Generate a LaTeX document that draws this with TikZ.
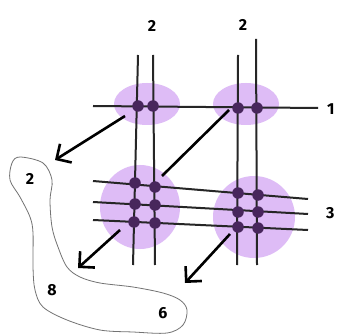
\documentclass[tikz,border=0pt]{standalone}
\usepackage{fontspec}
\setmainfont{Fira Sans}
\usetikzlibrary{arrows.meta,shapes.geometric}
\definecolor{bubble}{RGB}{222,188,246}
\definecolor{pin}{RGB}{72,38,92}

\begin{document}
\begin{tikzpicture}[x=1pt,y=-1pt,
  font=\bfseries\fontsize{16}{16}\selectfont,
  halo/.style={ellipse,fill=bubble,draw=none,inner sep=0pt},
  wire/.style={draw=black!85,line width=2pt},
  pin/.style={circle,fill=pin,inner sep=0pt,minimum size=11.5pt},
  ar/.style={-{Straight Barb[length=11pt,width=22pt,line width=2.6pt]},line width=2.6pt},
  blob/.style={draw=black!55,line width=0.8pt}
]
\useasboundingbox (0,0) rectangle (336,336);
\fill[white] (0,0) rectangle (336,336);

% halos
\node[halo,minimum width=66pt,minimum height=42pt] (h1) at (147,104) {};
\node[halo,minimum width=66pt,minimum height=42pt] (h2) at (246,104) {};
\node[halo,minimum width=80pt,minimum height=84pt] (h3) at (140,207) {};
\node[halo,minimum width=82pt,minimum height=82pt] (h4) at (254,217) {};

% vertical wires
\draw[wire] (138,55) -- (133,265);
\draw[wire] (153,55) -- (155,265);
\draw[wire] (238,55) -- (237,265);
\draw[wire] (256,39) -- (257,265);

% horizontal wires
\draw[wire] (93,106) -- (318,108);
\draw[wire] (93,181) -- (308,199);
\draw[wire] (93,202) -- (308,214);
\draw[wire] (93,220) -- (308,230);

% pins
\foreach \p in {(138,106),(153,106),(238,108),(257,108),
                (135,183),(155,187),(135,204),(155,205),(134,222),(155,223),
                (238,193),(258,195),(238,212),(258,212),(238,227),(258,228)}
  \node[pin] at \p {};

% labels
\node (c1) at (152,26) {2};
\node (c2) at (243,25) {2};
\node[anchor=west,inner sep=0pt] (r1) at (327,109) {1};
\node[anchor=west,inner sep=0pt] (r3) at (326,213) {3};

% arrows out of the halos
\coordinate (t1) at (55,160);
\coordinate (t3) at (78,268);
\coordinate (t4) at (185,283);
\draw[ar] (125,116) -- (t1);
\draw[line width=2.6pt] (229,110) -- (162,176);
\draw[ar] (120,230) -- (t3);
\draw[ar] (230,234) -- (t4);

% blob
\draw[blob] plot[smooth cycle,tension=0.55] coordinates {
  (20,157) (43,163) (52,180) (50,200) (52,227) (58,247) (67,267) (80,277)
  (100,283) (133,287) (163,293) (180,300) (187,310) (183,325) (167,333)
  (133,332) (100,330) (67,320) (43,307) (35,290) (33,267) (33,233)
  (30,217) (20,197) (10,180) (12,163)};
\node (n2) at (30,179) {2};
\node (n8) at (52,290) {8};
\node (n6) at (163,313) {6};
\end{tikzpicture}
\end{document}
